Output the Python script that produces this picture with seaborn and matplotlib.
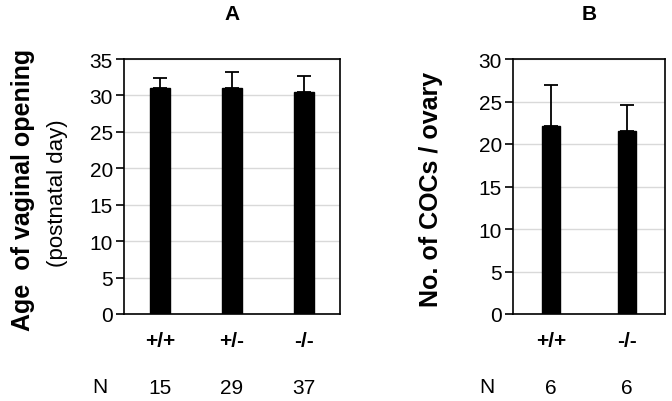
import numpy as np
import matplotlib
matplotlib.use("Agg")
import matplotlib.pyplot as plt
import matplotlib.transforms as mtransforms
import seaborn as sns

# ---------------- data ----------------
geno_a = ["+/+", "+/-", "-/-"]
age_mean = [31.0, 31.0, 30.5]
age_err = [1.4, 2.2, 2.2]
n_a = [15, 29, 37]

geno_b = ["+/+", "-/-"]
coc_mean = [22.1, 21.5]
coc_err = [4.8, 3.1]
n_b = [6, 6]

sns.set_style("white")
plt.rcParams['font.family'] = ['Liberation Sans', 'DejaVu Sans']
plt.rcParams['text.color'] = 'black'

fig = plt.figure(figsize=(6.72, 4.02), dpi=100)
ax_a = fig.add_axes([124/672, 1-315/402, 216/672, 255/402])
ax_b = fig.add_axes([513/672, 1-315/402, 152/672, 255/402])


def draw_panel(ax, cats, means, errs, ns, ymax, title, width):
    sns.barplot(x=cats, y=means, color="black", width=width, ax=ax,
                edgecolor="black", saturation=1)
    ax.errorbar(x=np.arange(len(cats)), y=means,
                yerr=[np.zeros(len(errs)), errs], fmt="none",
                ecolor="black", elinewidth=1.3, capsize=5, capthick=1.3)
    ax.set_ylim(0, ymax)
    ax.set_yticks(np.arange(0, ymax + 1, 5))
    ax.yaxis.grid(True, color="#d9d9d9", linewidth=1)
    ax.set_axisbelow(True)
    for s in ax.spines.values():
        s.set_color("black")
        s.set_linewidth(1.2)
    ax.tick_params(axis="y", length=6, width=1.2, left=True, labelsize=15,
                   pad=2, colors="black")
    ax.tick_params(axis="x", length=0, pad=12, colors="black")
    ax.set_xticks(np.arange(len(cats)))
    ax.set_xticklabels(cats, fontsize=15, fontweight="bold")
    ax.set_xlim(-0.5, len(cats) - 0.5)
    ax.set_title(title, fontsize=15, fontweight="bold", pad=29, color="black")
    tr = mtransforms.blended_transform_factory(ax.transData, ax.transAxes)
    for i, n in enumerate(ns):
        ax.text(i, -0.29, str(n), transform=tr, ha="center", va="center",
                fontsize=15)


draw_panel(ax_a, geno_a, age_mean, age_err, n_a, 35, "A", 0.27)
draw_panel(ax_b, geno_b, coc_mean, coc_err, n_b, 30, "B", 0.24)

# N labels
fig.text(100/672, 1-388/402, "N", ha="center", va="center", fontsize=15)
fig.text(487/672, 1-388/402, "N", ha="center", va="center", fontsize=15)

# y labels
fig.text(23/672, 1-190/402, "Age  of vaginal opening", rotation=90,
         ha="center", va="center", fontsize=18, fontweight="bold")
fig.text(57/672, 1-193/402, "(postnatal day)", rotation=90,
         ha="center", va="center", fontsize=16)
fig.text(431/672, 1-189/402, "No. of COCs / ovary", rotation=90,
         ha="center", va="center", fontsize=18, fontweight="bold")

fig.savefig("out.png", dpi=100, facecolor="white")
